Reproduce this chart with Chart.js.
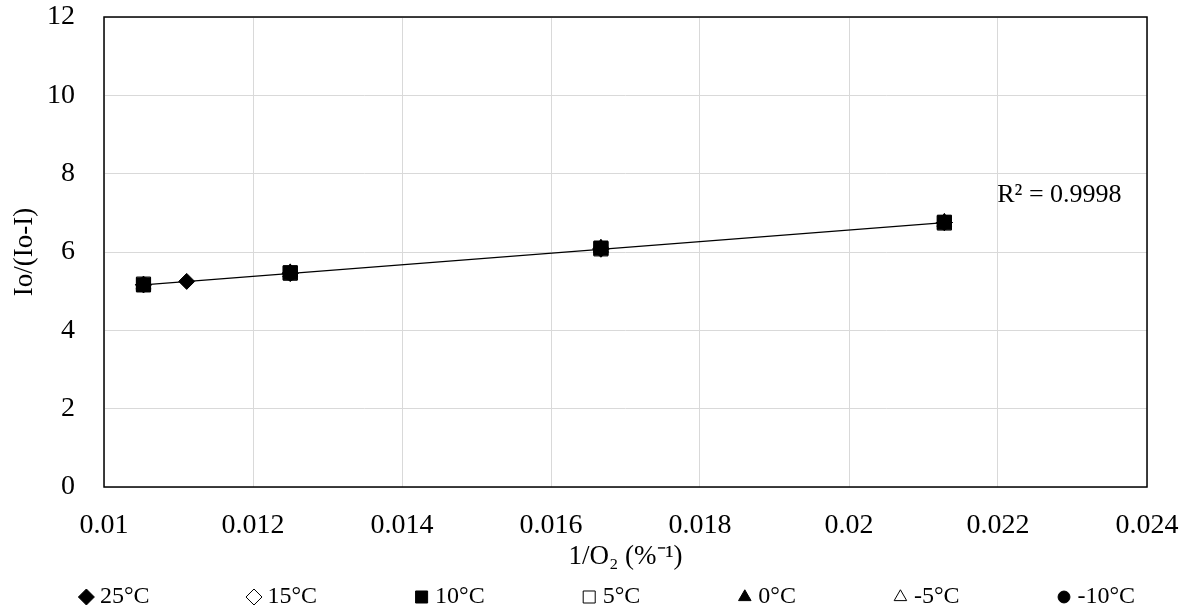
<!DOCTYPE html>
<html>
<head>
<meta charset="utf-8">
<script src="https://cdn.jsdelivr.net/npm/chart.js@4.4.1/dist/chart.umd.min.js"></script>
<style>
html, body { margin: 0; padding: 0; background: #fff; }
</style>
</head>
<body>
<canvas id="quenchChart" width="1190" height="613"></canvas>
<script>
// reciprocal oxygen level, 1/O2 (%^-1)
const invO2All = [0.01053, 0.01111, 0.0125, 0.01667, 0.02128];
const invO2 = [0.01053, 0.0125, 0.01667, 0.02128];

// Io/(Io-I) at each temperature
const t25 = [5.16, 5.25, 5.45, 6.07, 6.75];
const t15 = [5.17, 5.46, 6.09, 6.75];
const t10 = [5.16, 5.47, 6.10, 6.76];
const t5 = [5.18, 5.46, 6.08, 6.74];
const t0 = [5.17, 5.48, 6.11, 6.77];
const tm5 = [5.16, 5.47, 6.09, 6.75];
const tm10 = [5.17, 5.46, 6.10, 6.76];

const tempLabels = ["25°C", "15°C", "10°C", "5°C", "0°C", "-5°C", "-10°C"];
const r2Text = "R² = 0.9998";

const FONT = "'Liberation Serif', 'Times New Roman', serif";

function pts(xs, ys){
    return ys.map((y, i) => ({ x: xs[i], y: y }));
}

// least squares line through the 25°C points
function linearFit(xs, ys){
    const n = xs.length;
    const mx = xs.reduce((a, b) => a + b, 0) / n;
    const my = ys.reduce((a, b) => a + b, 0) / n;
    let sxy = 0, sxx = 0;
    xs.forEach((x, i) => { sxy += (x - mx) * (ys[i] - my); sxx += (x - mx) * (x - mx); });
    const slope = sxy / sxx;
    return { slope: slope, intercept: my - slope * mx };
}

const fit = linearFit(invO2All, t25);
const xLo = Math.min(...invO2All);
const xHi = Math.max(...invO2All);
const trend = [
    { x: xLo, y: fit.intercept + fit.slope * xLo },
    { x: xHi, y: fit.intercept + fit.slope * xHi }
];

// marker shape, filled or hollow, size
const markers = [
    ["rectRot", true, 8],
    ["rectRot", false, 8],
    ["rect", true, 10],
    ["rect", false, 10],
    ["triangle", true, 8.5],
    ["triangle", false, 8.5],
    ["circle", true, 7]
];

const seriesData = [
    pts(invO2All, t25),
    pts(invO2, t15),
    pts(invO2, t10),
    pts(invO2, t5),
    pts(invO2, t0),
    pts(invO2, tm5),
    pts(invO2, tm10)
];

const datasets = tempLabels.map((label, i) => ({
    label: label,
    data: seriesData[i],
    pointStyle: markers[i][0],
    pointRadius: markers[i][2],
    pointHoverRadius: markers[i][2],
    pointBorderWidth: 1,
    pointBorderColor: "#000",
    pointBackgroundColor: markers[i][1] ? "#000" : "rgba(255,255,255,0)",
    showLine: false
}));

datasets.push({
    label: "",
    data: trend,
    showLine: true,
    borderColor: "#000",
    borderWidth: 1.3,
    pointRadius: 0,
    pointHoverRadius: 0
});

// black frame round the plot area
const plotFrame = {
    id: "plotFrame",
    beforeDatasetsDraw(chart){
        const a = chart.chartArea;
        const ctx = chart.ctx;
        ctx.save();
        ctx.strokeStyle = "#000";
        ctx.lineWidth = 1.5;
        ctx.strokeRect(a.left, a.top, a.right - a.left, a.bottom - a.top);
        ctx.restore();
    }
};

// R² note next to the trend line
const r2Label = {
    id: "r2Label",
    afterDraw(chart){
        const ctx = chart.ctx;
        const x = chart.scales.x.getPixelForValue(0.02199);
        const y = chart.scales.y.getPixelForValue(7.45);
        ctx.save();
        ctx.font = "26px " + FONT;
        ctx.fillStyle = "#000";
        ctx.textAlign = "left";
        ctx.textBaseline = "middle";
        ctx.fillText(r2Text, x, y);
        ctx.restore();
    }
};

// single row legend along the bottom edge
const bottomLegend = {
    id: "bottomLegend",
    afterDraw(chart){
        const ctx = chart.ctx;
        const items = chart.data.datasets.filter(d => d.label);
        const gap = 97, markerW = 15, markerGap = 6;
        const y = 597;
        ctx.save();
        ctx.font = "24px " + FONT;
        const widths = items.map(d => markerW + markerGap + ctx.measureText(d.label).width);
        const total = widths.reduce((a, b) => a + b, 0) + gap * (items.length - 1);
        let x = chart.width / 2 + 12 - total / 2;
        items.forEach((d, i) => {
            const m = markers[i];
            ctx.fillStyle = m[1] ? "#000" : "#fff";
            ctx.strokeStyle = "#000";
            ctx.lineWidth = 1;
            Chart.helpers.drawPoint(ctx, {
                pointStyle: m[0],
                radius: m[0] === "rectRot" ? 8 : m[2] * 0.85,
                borderWidth: 1,
                rotation: 0
            }, x + markerW / 2, y);
            ctx.fillStyle = "#000";
            ctx.textAlign = "left";
            ctx.textBaseline = "middle";
            ctx.fillText(d.label, x + markerW + markerGap, y);
            x += widths[i] + gap;
        });
        ctx.restore();
    }
};

new Chart(document.getElementById("quenchChart"), {
    type: "scatter",
    data: { datasets: datasets },
    plugins: [plotFrame, r2Label, bottomLegend],
    options: {
        responsive: false,
        animation: false,
        layout: { padding: { left: 0, right: 43, top: 17, bottom: 40 } },
        plugins: {
            legend: { display: false },
            tooltip: { enabled: false }
        },
        scales: {
            x: {
                type: "linear",
                min: 0.01,
                max: 0.024,
                afterFit(scale){
                    scale.height = 86;
                    scale.paddingLeft = 0;
                    scale.paddingRight = 0;
                },
                ticks: {
                    stepSize: 0.002,
                    padding: 22,
                    color: "#000",
                    font: { family: FONT, size: 28 },
                    callback: v => String(+v.toFixed(3))
                },
                grid: { color: "#d9d9d9", lineWidth: 1, drawTicks: false },
                border: { display: false },
                title: {
                    display: true,
                    text: "1/O₂ (%⁻¹)",
                    color: "#000",
                    font: { family: FONT, size: 27 },
                    padding: { top: 0, bottom: 0 }
                }
            },
            y: {
                type: "linear",
                min: 0,
                max: 12,
                afterFit(scale){
                    scale.width = 104;
                    scale.paddingTop = 0;
                    scale.paddingBottom = 0;
                },
                ticks: {
                    stepSize: 2,
                    padding: 29,
                    color: "#000",
                    font: { family: FONT, size: 28 }
                },
                grid: { color: "#d9d9d9", lineWidth: 1, drawTicks: false },
                border: { display: false },
                title: {
                    display: true,
                    text: "Io/(Io-I)",
                    color: "#000",
                    font: { family: FONT, size: 27 },
                    padding: { top: 9, bottom: 0 }
                }
            }
        }
    }
});
</script>
</body>
</html>
